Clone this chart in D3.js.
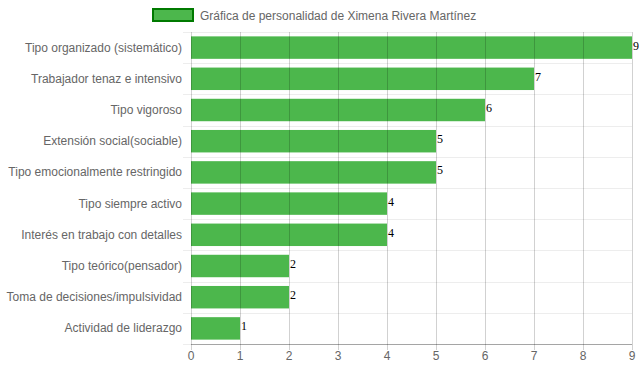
<!DOCTYPE html>
<html><head><meta charset="utf-8">
<script src="https://cdn.jsdelivr.net/npm/d3@7"></script>
<style>body{margin:0;background:#fff}svg{display:block}</style>
</head><body>
<script>
const categories = ["Tipo organizado (sistemático)","Trabajador tenaz e intensivo","Tipo vigoroso","Extensión social(sociable)","Tipo emocionalmente restringido","Tipo siempre activo","Interés en trabajo con detalles","Tipo teórico(pensador)","Toma de decisiones/impulsividad","Actividad de liderazgo"];
const values = [9,7,6,5,5,4,4,2,2,1];
const xTicks = [0,1,2,3,4,5,6,7,8,9];
const seriesName = "Gráfica de personalidad de Ximena Rivera Martínez";

(function(){
const W=639,H=372;
const svg=d3.select("body").append("svg").attr("width",W).attr("height",H);
const pL=191,pR=632,pT=32,pB=344;
const x=d3.scaleLinear().domain([0,9]).range([pL,pR]);
const y=d3.scaleBand().domain(categories).range([pT,pB]);
const font="'Liberation Sans',Arial,sans-serif";

// horizontal gridlines (category boundaries)
const bounds=categories.map(c=>y(c)).concat([pB]);
svg.append("g").selectAll("line").data(bounds).join("line")
  .attr("x1",pL-8).attr("x2",pR).attr("y1",d=>Math.round(d)+0.5).attr("y2",d=>Math.round(d)+0.5)
  .attr("stroke","rgba(0,0,0,0.07)");

// bars
const bh=y.bandwidth()*0.72;
svg.append("g").selectAll("rect").data(values).join("rect")
  .attr("x",x(0)).attr("y",(d,i)=>y(categories[i])+(y.bandwidth()-bh)/2)
  .attr("width",d=>x(d)-x(0)).attr("height",bh)
  .attr("fill","rgba(0,153,0,0.7)");

// vertical gridlines (drawn over bars)
svg.append("g").selectAll("line").data(xTicks).join("line")
  .attr("x1",d=>Math.round(x(d))+0.5).attr("x2",d=>Math.round(x(d))+0.5)
  .attr("y1",pT).attr("y2",pB+6)
  .attr("stroke","rgba(0,0,0,0.18)");

// axis line
svg.append("line").attr("x1",pL).attr("x2",pR).attr("y1",pB+0.5).attr("y2",pB+0.5).attr("stroke","rgba(0,0,0,0.3)");

// x tick labels
svg.append("g").selectAll("text").data(xTicks).join("text")
  .attr("x",d=>x(d)).attr("y",pB+16).attr("text-anchor","middle")
  .attr("font-family",font).attr("font-size",12).attr("fill","#666").text(d=>d);

// category labels
svg.append("g").selectAll("text").data(categories).join("text")
  .attr("x",pL-9).attr("y",d=>y(d)+y.bandwidth()/2+4).attr("text-anchor","end")
  .attr("font-family",font).attr("font-size",12).attr("fill","#666").text(d=>d);

// value labels
svg.append("g").selectAll("text").data(values).join("text")
  .attr("x",d=>x(d)+1).attr("y",(d,i)=>y(categories[i])+y.bandwidth()/2+2)
  .attr("font-family","'Liberation Serif','Times New Roman',serif").attr("font-size",12).attr("fill","#000").text(d=>d);

// legend
svg.append("rect").attr("x",153).attr("y",9).attr("width",40).attr("height",12)
  .attr("fill","rgba(0,153,0,0.7)").attr("stroke","#007a00").attr("stroke-width",2);
svg.append("text").attr("x",200).attr("y",19.5).attr("font-family",font).attr("font-size",12).attr("fill","#666").text(seriesName);
})();
</script>
</body></html>
